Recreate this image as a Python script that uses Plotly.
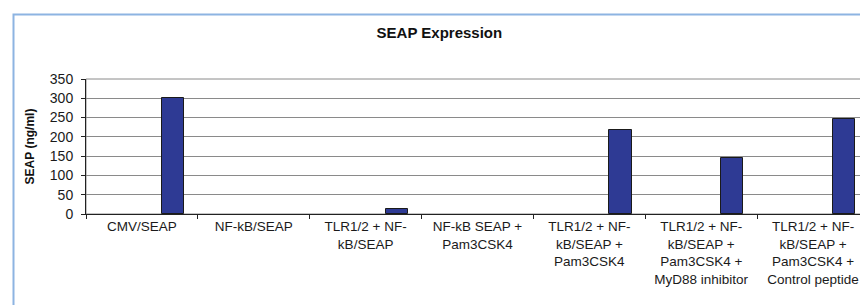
import plotly.graph_objects as go

categories = [
    "CMV/SEAP",
    "NF-kB/SEAP",
    "TLR1/2 + NF-<br>kB/SEAP",
    "NF-kB SEAP +<br>Pam3CSK4",
    "TLR1/2 + NF-<br>kB/SEAP +<br>Pam3CSK4",
    "TLR1/2 + NF-<br>kB/SEAP +<br>Pam3CSK4 +<br>MyD88 inhibitor",
    "TLR1/2 + NF-<br>kB/SEAP +<br>Pam3CSK4 +<br>Control peptide",
]
seap_values = [300, 0, 14, 0, 218, 146, 247]
y_tick_values = [0, 50, 100, 150, 200, 250, 300, 350]

FONT = "Arial, Liberation Sans, sans-serif"

fig = go.Figure()
fig.add_trace(go.Bar(
    x=categories,
    y=seap_values,
    width=0.197,
    offset=0.18,
    marker=dict(color="#2E3A94",
                line=dict(color="#1a1a1a",
                          width=[1 if v > 0 else 0 for v in seap_values])),
    showlegend=False,
))

W, H = 868, 305
ml, mr, mt, mb = 78, 7, 71, 99
pw = W - ml - mr
ph = H - mt - mb

fig.update_layout(
    width=W, height=H,
    margin=dict(l=ml, r=mr, t=mt, b=mb),
    paper_bgcolor="white",
    plot_bgcolor="white",
    font=dict(family=FONT, size=13, color="#111"),
    title=dict(text="<b>SEAP Expression</b>", x=0.497, xref="container",
               y=1 - 25 / H, yanchor="middle",
               font=dict(family=FONT, size=15, color="#111")),
    bargap=0,
    xaxis=dict(
        type="category",
        range=[-0.5, 6.5],
        showline=True, linecolor="#222", linewidth=1,
        ticks="outside", ticklen=4, tickcolor="#222",
        tickson="boundaries",
        showgrid=False,
        tickfont=dict(family=FONT, size=13.5, color="#1a1a1a"),
        tickangle=0,
    ),
    yaxis=dict(
        range=[0, 350],
        tickvals=y_tick_values,
        showline=True, linecolor="#222", linewidth=1,
        ticks="outside", ticklen=4, tickcolor="#222",
        ticklabelstandoff=5,
        showgrid=True, gridcolor="#8a8a8a", gridwidth=1,
        zeroline=False,
        tickfont=dict(family=FONT, size=14, color="#1a1a1a"),
        title=dict(text="<b>SEAP (ng/ml)</b>", standoff=12,
                   font=dict(family=FONT, size=12, color="#111")),
    ),
    shapes=[
        dict(type="rect", xref="paper", yref="paper", x0=0, x1=1, y0=0, y1=1,
             line=dict(color="#8a8a8a", width=1), layer="below"),
        dict(type="rect", xref="paper", yref="paper",
             x0=(5.5 - ml) / pw, x1=(W + 10 - ml) / pw,
             y0=(ph + mt - (H + 10)) / ph, y1=(ph + mt - 6.5) / ph,
             line=dict(color="#8DB4E2", width=2), layer="below"),
    ],
)

fig.write_html("out.html")
